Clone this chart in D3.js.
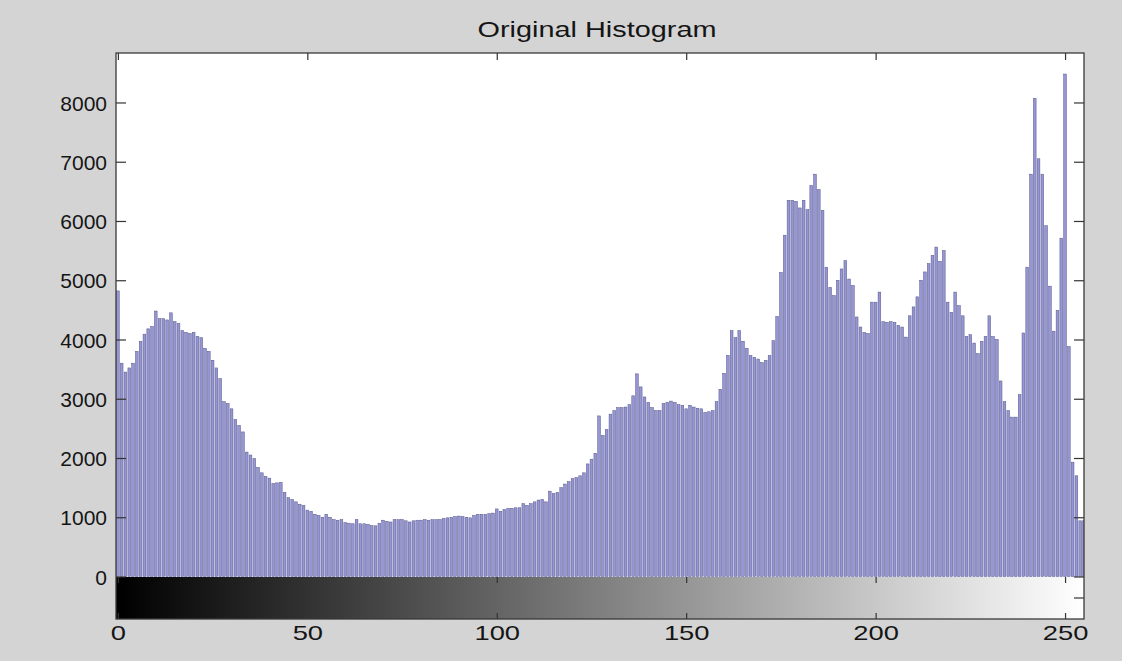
<!DOCTYPE html>
<html><head><meta charset="utf-8">
<script src="https://cdn.jsdelivr.net/npm/d3@7"></script>
<style>html,body{margin:0;padding:0;background:#d4d4d4;} svg{display:block;}</style>
</head><body>
<svg id="chart" width="1122" height="661"></svg>
<script>
// ---- data ----
const chartTitle = "Original Histogram";
// pixel counts for gray levels 0..255 (index = gray level)
const counts = [
  4820,3600,3450,3520,3600,3800,3970,4090,4180,4220,4480,4350,4350,4330,4450,4300,
  4270,4150,4120,4100,4120,4050,4030,3850,3800,3650,3520,3340,2950,2920,2830,2650,
  2550,2440,2100,2050,1990,1840,1750,1690,1660,1570,1580,1590,1420,1330,1300,1260,
  1220,1200,1120,1100,1050,1030,1000,1050,1000,960,950,960,910,900,890,960,
  890,890,880,860,855,900,950,930,920,960,960,960,940,920,940,950,
  950,960,950,960,960,960,980,990,1000,1010,1020,1010,1000,990,1030,1050,
  1050,1050,1060,1070,1140,1100,1130,1150,1150,1160,1160,1230,1200,1230,1260,1290,
  1300,1260,1440,1400,1420,1500,1560,1600,1650,1670,1700,1750,1900,1980,2080,2710,
  2380,2480,2740,2800,2850,2850,2860,2900,3050,3420,3200,3030,2940,2850,2800,2800,
  2920,2940,2960,2940,2900,2890,2830,2890,2860,2840,2830,2770,2780,2800,2950,3160,
  3430,3730,4150,4030,4150,3970,3850,3730,3700,3670,3610,3650,3730,3980,4390,5130,
  5760,6350,6350,6330,6220,6350,6190,6600,6790,6530,6180,5220,4880,4740,5000,5190,
  5330,5020,4910,4380,4210,4120,4100,4630,4630,4800,4300,4290,4300,4290,4240,4210,
  4040,4400,4550,4720,5000,5140,5280,5420,5560,5320,5500,4630,4460,4800,4570,4400,
  4050,4080,3940,3760,3970,4050,4400,4050,4000,3300,2950,2800,2690,2690,3070,4110,
  5220,6790,8070,7050,6790,5920,4900,4140,4490,5710,8480,3880,1930,1700,940,940
];
const yTickValues = [0,1000,2000,3000,4000,5000,6000,7000,8000];
const xTickValues = [0,50,100,150,200,250];
const grayDomain = [0,255];

// ---- layout ----
const W = 1122, H = 661;
const L = 116, R = 1084, T = 53, B0 = 577, CB = 619;
const svg = d3.select('#chart');
svg.append('rect').attr('width', W).attr('height', H).attr('fill', '#d4d4d4');

const x = d3.scaleLinear().domain([-0.5, 255]).range([L, R]);
const y = d3.scaleLinear().domain([0, 8835]).range([576.5, T]);

svg.append('rect').attr('x', L).attr('y', T).attr('width', R - L).attr('height', B0 - T).attr('fill', '#ffffff');

svg.append('clipPath').attr('id', 'clip').append('rect')
  .attr('x', L).attr('y', T).attr('width', R - L).attr('height', B0 - T);

const bw = 2.7;
svg.append('g').attr('clip-path', 'url(#clip)')
  .selectAll('rect').data(counts).join('rect')
  .attr('x', (d, i) => x(i) - bw / 2)
  .attr('y', d => y(d))
  .attr('width', bw)
  .attr('height', d => y(0) - y(d))
  .attr('fill', '#9696d2')
  .attr('stroke', '#55558f')
  .attr('stroke-width', 0.5);

// colorbar gradient
const defs = svg.append('defs');
const grad = defs.append('linearGradient').attr('id', 'gray').attr('x1', '0%').attr('x2', '100%');
const gscale = d3.scaleLinear().domain(grayDomain).range(['#000000', '#ffffff']);
grad.append('stop').attr('offset', 0).attr('stop-color', '#000');
d3.range(0, 256, 15).concat([255]).forEach(v => {
  grad.append('stop').attr('offset', (x(v) - L) / (R - L)).attr('stop-color', gscale(v));
});
svg.append('rect').attr('x', L).attr('y', B0).attr('width', R - L).attr('height', CB - B0).attr('fill', 'url(#gray)');

const font = 'Liberation Sans, Arial, Helvetica, sans-serif';

const yAxis = svg.append('g').attr('transform', `translate(${L},0)`)
  .call(d3.axisLeft(y).tickValues(yTickValues).tickSizeInner(-10).tickSizeOuter(0).tickPadding(9).tickFormat(d3.format('d')));
const yAxisR = svg.append('g').attr('transform', `translate(${R},0)`)
  .call(d3.axisRight(y).tickValues(yTickValues).tickSizeInner(-10).tickSizeOuter(0).tickFormat(''));
const xAxisT = svg.append('g').attr('transform', `translate(0,${T})`)
  .call(d3.axisTop(x).tickValues(xTickValues).tickSizeInner(-7).tickSizeOuter(0).tickFormat(''));
const xAxisCT = svg.append('g').attr('transform', `translate(0,${B0})`)
  .call(d3.axisTop(x).tickValues(xTickValues).tickSizeInner(-6).tickSizeOuter(0).tickFormat(''));
const xAxisB = svg.append('g').attr('transform', `translate(0,${CB})`)
  .call(d3.axisBottom(x).tickValues(xTickValues).tickSizeInner(-6).tickSizeOuter(0).tickPadding(6));

[yAxis, yAxisR, xAxisT, xAxisCT, xAxisB].forEach(g => {
  g.select('.domain').remove();
  g.selectAll('line').attr('stroke', '#333').attr('stroke-width', 1.2);
  g.selectAll('text').attr('font-family', font).attr('font-size', 21).attr('fill', '#151515');
});
yAxis.selectAll('text').attr('dy', '0.36em');
xAxisB.selectAll('text')
  .attr('textLength', d => String(d).length * 15.2)
  .attr('lengthAdjust', 'spacingAndGlyphs');

svg.append('line').attr('x1', R - 10).attr('x2', R).attr('y1', (B0 + CB) / 2).attr('y2', (B0 + CB) / 2)
  .attr('stroke', '#333').attr('stroke-width', 1.2);

svg.append('rect').attr('x', L).attr('y', T).attr('width', R - L).attr('height', CB - T)
  .attr('fill', 'none').attr('stroke', '#3a3a3a').attr('stroke-width', 1.3);

svg.append('text').attr('x', 597).attr('y', 37).attr('text-anchor', 'middle')
  .attr('font-family', font).attr('font-size', 22).attr('fill', '#151515')
  .attr('textLength', 239).attr('lengthAdjust', 'spacingAndGlyphs')
  .text(chartTitle);
</script>
</body></html>
